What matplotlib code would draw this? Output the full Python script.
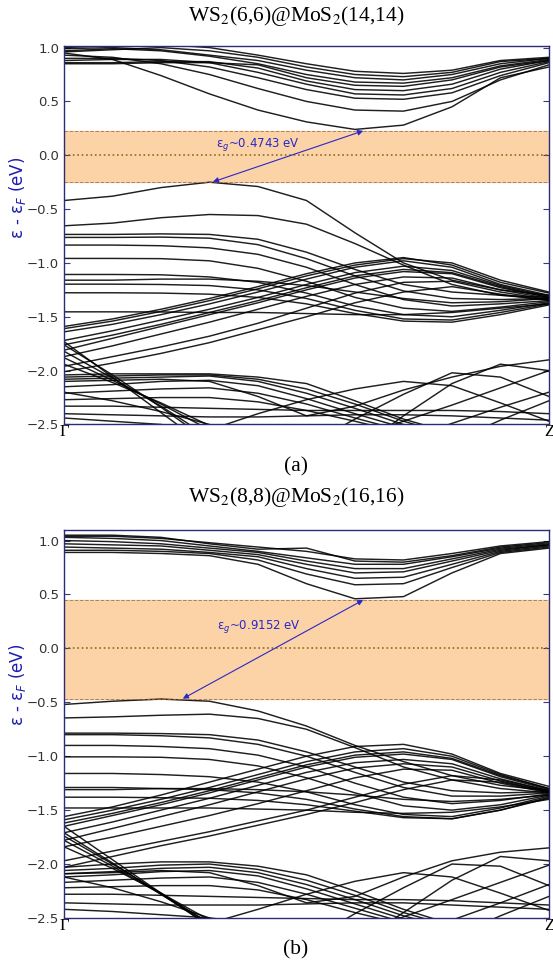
import matplotlib
matplotlib.use("Agg")
import matplotlib.pyplot as plt

plt.rcParams['mathtext.fontset'] = 'stix'

# k-path Gamma -> Z, sampled every 0.1
k = [0.0, 0.1, 0.2, 0.3, 0.4, 0.5, 0.6, 0.7, 0.8, 0.9, 1.0]

# ---------------- (a) WS2(6,6)@MoS2(14,14) ----------------
a_title = 'WS$_2$(6,6)@MoS$_2$(14,14)'
a_cbm = 0.227
a_vbm = -0.2473
a_gap_label = 'ε$_g$~0.4743 eV'
a_k_vbm = 0.307
a_k_cbm = 0.617

a_cond = [
    [0.95, 0.89, 0.74, 0.57, 0.42, 0.31, 0.24, 0.28, 0.45, 0.72, 0.82],
    [0.93, 0.91, 0.85, 0.75, 0.62, 0.50, 0.42, 0.41, 0.50, 0.70, 0.84],
    [0.90, 0.90, 0.88, 0.82, 0.72, 0.61, 0.53, 0.52, 0.58, 0.74, 0.86],
    [0.88, 0.89, 0.89, 0.86, 0.77, 0.66, 0.57, 0.56, 0.62, 0.77, 0.87],
    [0.86, 0.86, 0.87, 0.87, 0.81, 0.69, 0.61, 0.60, 0.66, 0.80, 0.88],
    [0.85, 0.85, 0.86, 0.86, 0.84, 0.72, 0.65, 0.64, 0.70, 0.82, 0.88],
    [0.97, 0.99, 0.97, 0.92, 0.85, 0.75, 0.68, 0.67, 0.72, 0.83, 0.89],
    [0.99, 1.00, 0.98, 0.93, 0.88, 0.79, 0.72, 0.70, 0.75, 0.85, 0.90],
    [0.96, 0.98, 1.00, 0.97, 0.91, 0.82, 0.75, 0.73, 0.77, 0.87, 0.90],
    [1.00, 1.02, 1.03, 1.00, 0.93, 0.85, 0.78, 0.76, 0.79, 0.88, 0.91],
]

a_val_top = [
    [-0.42, -0.38, -0.30, -0.25, -0.29, -0.42, -0.72, -1.00, -1.16, -1.25, -1.30],
    [-0.655, -0.63, -0.58, -0.55, -0.56, -0.64, -0.82, -1.02, -1.20, -1.30, -1.34],
]

a_val_flat = [
    [-0.735, -0.735, -0.73, -0.735, -0.78, -0.90, -1.06, -1.20, -1.27, -1.30, -1.32],
    [-0.763, -0.763, -0.76, -0.77, -0.83, -0.96, -1.12, -1.26, -1.33, -1.34, -1.33],
    [-0.834, -0.834, -0.84, -0.86, -0.92, -1.04, -1.20, -1.34, -1.40, -1.38, -1.35],
    [-0.958, -0.958, -0.96, -0.98, -1.05, -1.17, -1.32, -1.42, -1.45, -1.41, -1.36],
    [-1.107, -1.107, -1.11, -1.13, -1.18, -1.28, -1.40, -1.48, -1.50, -1.44, -1.37],
    [-1.197, -1.197, -1.20, -1.21, -1.25, -1.33, -1.44, -1.52, -1.53, -1.46, -1.38],
    [-1.277, -1.277, -1.28, -1.29, -1.32, -1.38, -1.47, -1.54, -1.55, -1.48, -1.39],
    [-1.454, -1.454, -1.455, -1.46, -1.46, -1.47, -1.48, -1.48, -1.46, -1.42, -1.38],
    [-1.16, -1.16, -1.15, -1.15, -1.17, -1.21, -1.27, -1.33, -1.37, -1.36, -1.33],
]

a_val_rise = [
    [-1.59, -1.52, -1.43, -1.33, -1.22, -1.10, -1.00, -0.95, -1.02, -1.18, -1.28],
    [-1.61, -1.54, -1.45, -1.35, -1.24, -1.12, -1.02, -0.96, -1.00, -1.16, -1.27],
    [-1.64, -1.57, -1.48, -1.38, -1.27, -1.15, -1.04, -0.98, -1.04, -1.20, -1.30],
    [-1.72, -1.63, -1.53, -1.43, -1.32, -1.20, -1.09, -1.03, -1.07, -1.21, -1.31],
    [-1.76, -1.67, -1.57, -1.46, -1.35, -1.23, -1.12, -1.06, -1.09, -1.22, -1.32],
    [-1.81, -1.70, -1.59, -1.48, -1.37, -1.25, -1.14, -1.08, -1.10, -1.23, -1.32],
    [-1.87, -1.77, -1.66, -1.55, -1.43, -1.31, -1.20, -1.13, -1.14, -1.25, -1.33],
    [-1.96, -1.87, -1.78, -1.68, -1.56, -1.42, -1.28, -1.18, -1.17, -1.27, -1.34],
    [-2.01, -1.93, -1.84, -1.74, -1.62, -1.50, -1.37, -1.27, -1.22, -1.29, -1.35],
]

a_val_low = [
    [-2.04, -2.03, -2.03, -2.03, -2.06, -2.12, -2.28, -2.45, -2.58, -2.65, -2.70],
    [-2.06, -2.05, -2.04, -2.04, -2.08, -2.17, -2.31, -2.47, -2.60, -2.65, -2.70],
    [-2.08, -2.07, -2.06, -2.05, -2.10, -2.21, -2.35, -2.50, -2.62, -2.70, -2.70],
    [-2.15, -2.13, -2.10, -2.09, -2.14, -2.26, -2.40, -2.53, -2.65, -2.70, -2.70],
    [-2.21, -2.19, -2.17, -2.16, -2.21, -2.31, -2.44, -2.56, -2.65, -2.70, -2.70],
    [-2.27, -2.26, -2.25, -2.25, -2.29, -2.37, -2.47, -2.58, -2.65, -2.70, -2.70],
    [-2.33, -2.33, -2.34, -2.35, -2.36, -2.37, -2.37, -2.37, -2.37, -2.38, -2.40],
    [-2.40, -2.41, -2.42, -2.43, -2.43, -2.42, -2.41, -2.41, -2.42, -2.44, -2.46],
    [-2.44, -2.47, -2.50, -2.55, -2.60, -2.60, -2.60, -2.60, -2.60, -2.60, -2.60],
    [-1.73, -2.06, -2.39, -2.72, -3.00, -3.00, -3.00, -3.00, -3.00, -3.00, -3.00],
    [-1.76, -2.04, -2.34, -2.66, -2.98, -3.00, -3.00, -3.00, -3.00, -3.00, -3.00],
    [-1.82, -2.07, -2.33, -2.62, -2.90, -3.00, -3.00, -3.00, -3.00, -3.00, -3.00],
    [-1.88, -2.09, -2.31, -2.55, -2.80, -3.00, -3.00, -3.00, -3.00, -3.00, -3.00],
    [-1.94, -2.11, -2.30, -2.51, -2.72, -3.00, -3.00, -3.00, -3.00, -3.00, -3.00],
    [-2.20, -2.28, -2.38, -2.50, -2.64, -2.80, -3.00, -3.00, -3.00, -3.00, -3.00],
    [-2.10, -2.09, -2.08, -2.10, -2.24, -2.42, -2.33, -2.18, -2.06, -1.96, -1.90],
    [-3.00, -3.00, -3.00, -3.00, -3.00, -3.00, -2.75, -2.42, -2.12, -1.94, -2.00],
    [-3.00, -3.00, -3.00, -3.00, -3.00, -2.78, -2.62, -2.47, -2.32, -2.16, -2.00],
    [-3.00, -3.00, -3.00, -3.00, -3.00, -3.00, -2.81, -2.65, -2.49, -2.34, -2.20],
    [-2.60, -2.60, -2.60, -2.55, -2.40, -2.27, -2.17, -2.10, -2.14, -2.30, -2.47],
    [-3.00, -3.00, -3.00, -3.00, -3.00, -3.00, -3.00, -2.86, -2.66, -2.46, -2.28],
    [-3.00, -3.00, -3.00, -3.00, -3.00, -2.70, -2.45, -2.22, -2.02, -2.06, -2.24],
]

# ---------------- (b) WS2(8,8)@MoS2(16,16) ----------------
b_title = 'WS$_2$(8,8)@MoS$_2$(16,16)'
b_cbm = 0.449
b_vbm = -0.4662
b_gap_label = 'ε$_g$~0.9152 eV'
b_k_vbm = 0.245
b_k_cbm = 0.617

b_cond = [
    [0.89, 0.89, 0.88, 0.86, 0.78, 0.60, 0.46, 0.48, 0.70, 0.88, 0.93],
    [0.91, 0.91, 0.90, 0.88, 0.82, 0.69, 0.59, 0.60, 0.75, 0.89, 0.94],
    [0.94, 0.93, 0.92, 0.89, 0.85, 0.74, 0.65, 0.66, 0.78, 0.90, 0.95],
    [0.97, 0.96, 0.95, 0.91, 0.87, 0.78, 0.70, 0.71, 0.81, 0.91, 0.96],
    [1.00, 0.99, 0.97, 0.93, 0.89, 0.81, 0.74, 0.74, 0.83, 0.92, 0.96],
    [1.03, 1.02, 1.00, 0.95, 0.90, 0.84, 0.78, 0.78, 0.85, 0.93, 0.97],
    [1.05, 1.05, 1.03, 0.97, 0.92, 0.93, 0.81, 0.80, 0.86, 0.94, 0.98],
    [1.04, 1.04, 1.02, 0.98, 0.94, 0.90, 0.83, 0.82, 0.88, 0.95, 0.99],
]

b_val_top = [
    [-0.52, -0.49, -0.47, -0.49, -0.58, -0.72, -0.90, -1.05, -1.18, -1.27, -1.32],
    [-0.645, -0.635, -0.62, -0.61, -0.65, -0.75, -0.92, -1.10, -1.22, -1.30, -1.34],
]

b_val_flat = [
    [-0.786, -0.786, -0.79, -0.80, -0.85, -0.96, -1.10, -1.24, -1.32, -1.34, -1.33],
    [-0.80, -0.80, -0.81, -0.83, -0.89, -1.00, -1.15, -1.29, -1.37, -1.37, -1.34],
    [-0.90, -0.90, -0.91, -0.93, -0.99, -1.10, -1.25, -1.38, -1.44, -1.41, -1.35],
    [-1.006, -1.006, -1.01, -1.03, -1.09, -1.20, -1.34, -1.46, -1.50, -1.45, -1.36],
    [-1.16, -1.16, -1.17, -1.19, -1.24, -1.33, -1.45, -1.54, -1.56, -1.48, -1.37],
    [-1.29, -1.29, -1.30, -1.31, -1.34, -1.40, -1.49, -1.56, -1.58, -1.50, -1.38],
    [-1.38, -1.38, -1.385, -1.39, -1.41, -1.45, -1.51, -1.57, -1.58, -1.50, -1.39],
    [-1.48, -1.48, -1.48, -1.48, -1.49, -1.50, -1.52, -1.53, -1.52, -1.47, -1.40],
    [-1.31, -1.31, -1.30, -1.30, -1.31, -1.33, -1.36, -1.40, -1.42, -1.40, -1.36],
]

b_val_rise = [
    [-1.56, -1.47, -1.36, -1.24, -1.12, -1.00, -0.91, -0.89, -0.98, -1.16, -1.28],
    [-1.59, -1.50, -1.40, -1.29, -1.17, -1.05, -0.96, -0.93, -1.00, -1.17, -1.30],
    [-1.62, -1.53, -1.43, -1.32, -1.20, -1.08, -0.99, -0.96, -1.02, -1.18, -1.30],
    [-1.65, -1.55, -1.45, -1.34, -1.22, -1.10, -1.01, -0.98, -1.03, -1.19, -1.31],
    [-1.71, -1.61, -1.50, -1.39, -1.27, -1.15, -1.06, -1.03, -1.07, -1.21, -1.32],
    [-1.78, -1.67, -1.56, -1.45, -1.33, -1.21, -1.11, -1.07, -1.10, -1.23, -1.33],
    [-1.84, -1.75, -1.65, -1.55, -1.44, -1.32, -1.20, -1.12, -1.13, -1.25, -1.34],
    [-1.97, -1.88, -1.79, -1.70, -1.60, -1.50, -1.38, -1.26, -1.18, -1.22, -1.32],
    [-2.03, -1.93, -1.83, -1.74, -1.64, -1.54, -1.43, -1.31, -1.22, -1.24, -1.33],
]

b_val_low = [
    [-2.03, -2.00, -1.98, -1.98, -2.02, -2.10, -2.25, -2.42, -2.56, -2.65, -2.70],
    [-2.06, -2.04, -2.01, -2.00, -2.05, -2.15, -2.29, -2.45, -2.58, -2.65, -2.70],
    [-2.09, -2.07, -2.04, -2.03, -2.08, -2.19, -2.33, -2.48, -2.60, -2.70, -2.70],
    [-2.12, -2.10, -2.07, -2.06, -2.11, -2.23, -2.37, -2.51, -2.62, -2.70, -2.70],
    [-2.17, -2.15, -2.13, -2.12, -2.17, -2.28, -2.41, -2.54, -2.65, -2.70, -2.70],
    [-2.22, -2.21, -2.20, -2.20, -2.24, -2.33, -2.45, -2.56, -2.65, -2.70, -2.70],
    [-2.28, -2.28, -2.29, -2.30, -2.31, -2.32, -2.33, -2.33, -2.34, -2.36, -2.38],
    [-2.36, -2.37, -2.38, -2.38, -2.38, -2.37, -2.36, -2.36, -2.38, -2.40, -2.42],
    [-2.42, -2.44, -2.47, -2.50, -2.55, -2.60, -2.60, -2.60, -2.60, -2.60, -2.60],
    [-1.65, -1.96, -2.27, -2.58, -2.90, -3.00, -3.00, -3.00, -3.00, -3.00, -3.00],
    [-1.71, -1.99, -2.28, -2.57, -2.86, -3.00, -3.00, -3.00, -3.00, -3.00, -3.00],
    [-1.74, -2.00, -2.27, -2.55, -2.84, -3.00, -3.00, -3.00, -3.00, -3.00, -3.00],
    [-1.78, -2.02, -2.28, -2.55, -2.82, -3.00, -3.00, -3.00, -3.00, -3.00, -3.00],
    [-1.84, -2.04, -2.27, -2.52, -2.78, -3.00, -3.00, -3.00, -3.00, -3.00, -3.00],
    [-2.12, -2.22, -2.35, -2.50, -2.66, -2.85, -3.00, -3.00, -3.00, -3.00, -3.00],
    [-2.09, -2.08, -2.06, -2.08, -2.20, -2.36, -2.30, -2.12, -1.97, -1.89, -1.85],
    [-3.00, -3.00, -3.00, -3.00, -3.00, -3.00, -2.75, -2.45, -2.15, -1.93, -1.97],
    [-3.00, -3.00, -3.00, -3.00, -3.00, -2.81, -2.65, -2.49, -2.33, -2.17, -2.01],
    [-3.00, -3.00, -3.00, -3.00, -3.00, -3.00, -2.86, -2.70, -2.52, -2.36, -2.19],
    [-2.60, -2.60, -2.60, -2.55, -2.42, -2.28, -2.16, -2.08, -2.12, -2.27, -2.43],
    [-3.00, -3.00, -3.00, -3.00, -3.00, -3.00, -3.00, -2.88, -2.68, -2.48, -2.30],
    [-3.00, -3.00, -3.00, -3.00, -3.00, -2.72, -2.46, -2.22, -2.00, -2.02, -2.20],
]

yticks = [-2.5, -2.0, -1.5, -1.0, -0.5, 0.0, 0.5, 1.0]
kticks = [0.0, 1.0]
klabels = ['Γ', 'Z']
ylabel = 'ε - ε$_F$ (eV)'

fig = plt.figure(figsize=(5.53, 9.68), dpi=100)

def draw_panel(ax, bands, cbm, vbm, kv, kc, label, label_xy, ytop):
    for group in bands:
        for b in group:
            ax.plot(k, b, color='black', lw=1.05, alpha=0.88)
    ax.axhspan(vbm, cbm, color='#fcd3a6', zorder=0)
    ax.axhline(cbm, color='#9c6b4a', ls='--', lw=0.7, alpha=0.8)
    ax.axhline(vbm, color='#9c6b4a', ls='--', lw=0.7, alpha=0.8)
    ax.axhline(0.0, color='#8a6d1e', ls=':', lw=1.2)
    ax.annotate('', xy=(kc, cbm), xytext=(kv, vbm),
                arrowprops=dict(arrowstyle='<|-|>', color='#2828c8', lw=0.8,
                                mutation_scale=8, shrinkA=0, shrinkB=0))
    ax.text(label_xy[0], label_xy[1], label, color='#2828c8', fontsize=8.5,
            ha='center', va='center', math_fontfamily='dejavusans')
    ax.set_xlim(0, 1)
    ax.set_ylim(-2.5, ytop)
    ax.set_yticks(yticks)
    ax.set_xticks(kticks)
    ax.set_xticklabels(klabels, family='Liberation Serif', fontsize=12)
    ax.tick_params(axis='x', length=0, pad=0)
    ax.tick_params(axis='y', direction='in', right=True, length=4,
                   labelsize=9.5, labelcolor='#333333', color='#3a3a7a')
    for s in ax.spines.values():
        s.set_color('#2b2b78')
        s.set_linewidth(1.0)
    ax.set_ylabel(ylabel, color='#1c1cb0', fontsize=12,
                  math_fontfamily='dejavusans')
    ax.yaxis.set_label_coords(-0.075, 0.6)

ax1 = fig.add_axes([0.1157, 0.5615, 0.877, 0.391])
draw_panel(ax1, [a_cond, a_val_top, a_val_flat, a_val_rise, a_val_low],
           a_cbm, a_vbm, a_k_vbm, a_k_cbm, a_gap_label, (0.40, 0.096), 1.015)

ax2 = fig.add_axes([0.1157, 0.0517, 0.877, 0.401])
draw_panel(ax2, [b_cond, b_val_top, b_val_flat, b_val_rise, b_val_low],
           b_cbm, b_vbm, b_k_vbm, b_k_cbm, b_gap_label, (0.403, 0.205), 1.10)

fig.text(0.535, 0.9835, a_title, ha='center', va='center', fontsize=15.5,
         family='Liberation Serif')
fig.text(0.535, 0.5176, '(a)', ha='center', va='center', fontsize=15.5,
         family='Liberation Serif')
fig.text(0.535, 0.4866, b_title, ha='center', va='center', fontsize=15.5,
         family='Liberation Serif')
fig.text(0.535, 0.0186, '(b)', ha='center', va='center', fontsize=15.5,
         family='Liberation Serif')

fig.savefig('out.png', dpi=100)
